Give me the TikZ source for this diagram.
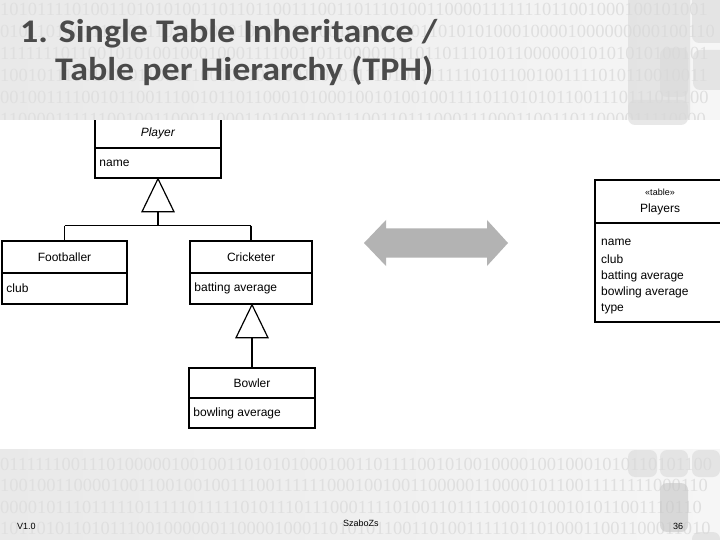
\documentclass[tikz,border=0pt]{standalone}
\usepackage{fontspec}
\setmainfont{Liberation Sans}
\newfontfamily\titlefont{Carlito}
\newfontfamily\digitfont{Liberation Serif}
\usetikzlibrary{arrows.meta}
\definecolor{bandc}{HTML}{E9E9E9}
\definecolor{bandr}{HTML}{F6F6F6}
\definecolor{digitc}{HTML}{DFDFDF}
\definecolor{titlec}{HTML}{4A4A4A}
\definecolor{arrowc}{HTML}{B3B3B3}
\definecolor{decoc}{HTML}{D9D9D9}
\tikzset{
  umlbox/.style={draw=black, line width=1.5pt, fill=white, inner sep=0pt, font=\fontsize{12}{13}\selectfont},
  umltxt/.style={anchor=west, inner sep=0pt, font=\fontsize{12}{13}\selectfont},
  umlline/.style={draw=black, line width=1.2pt},
  digits/.style={anchor=base west, inner sep=0pt, text=digitc, font=\digitfont\fontsize{18.5}{20}\selectfont},
  deco/.style={fill=decoc, rounded corners=7pt, opacity=0.6},
  foot/.style={inner sep=0pt, font=\fontsize{9}{10}\selectfont},
  titletxt/.style={anchor=base west, inner sep=0pt, text=titlec, font=\titlefont\bfseries\fontsize{33}{33}\selectfont}
}
\begin{document}
\begin{tikzpicture}[x=1pt,y=-1pt]
\useasboundingbox (0,0) rectangle (720,540);
\fill[white] (0,0) rectangle (720,540);

% Player class (top hidden below the band)
\node[umlbox, minimum width=126pt, minimum height=31pt] (playerH) at (158,133) {\textit{Player}};
\node[umlbox, minimum width=126pt, minimum height=30pt] (playerA) at (158,163) {};
\node[umltxt] (playerT) at ([xshift=5pt]playerA.west) {name};

% header band
\shade[left color=bandc, right color=bandr] (0,0) rectangle (720,120);
\begin{scope}
\clip (0,0) rectangle (720,120);
\node[digits] (r1) at (0,16) {101011110100110101010011011011001110011011101001100001111111011001000100101001};
\node[digits] (r2) at (0,38) {010110100111010011011100101010011010010110010011010101000100001000000000100110};
\node[digits] (r3) at (0,60) {111111101100101010010001000111100110110000111101101110101100000010101010100101};
\node[digits] (r4) at (0,82) {100101110010010110011100100100100110101111010011111101011001001111010110010011};
\node[digits] (r5) at (0,104) {001001111001011001110010110110001010001001010010011110110101011001110111011100};
\node[digits] (r6) at (0,126) {110000111111001001100011000110100110011100110111000111000110011011000011110000};
\end{scope}
\fill[deco] (628,-8) rectangle (690,120);
\fill[deco] (692,-8) rectangle (730,43);
\fill[deco] (660,48) rectangle (688,97);
\fill[deco] (693,50) rectangle (730,90);
\fill[deco] (628,100) rectangle (688,125);

% title
\node[titletxt] (title1) at (20,43) {\scalebox{1.09}[1]{1. Single Table Inheritance /}};
\node[titletxt] (title2) at (55,81) {\scalebox{1.09}[1]{Table per Hierarchy (TPH)}};

% Footballer
\node[umlbox, minimum width=125pt, minimum height=32pt] (footH) at (64.5,257) {Footballer};
\node[umlbox, minimum width=125pt, minimum height=31pt] (footA) at (64.5,288.5) {};
\node[umltxt] (footT) at ([xshift=5pt]footA.west) {club};

% Cricketer
\node[umlbox, minimum width=122pt, minimum height=32pt] (crickH) at (251,257) {Cricketer};
\node[umlbox, minimum width=122pt, minimum height=31pt] (crickA) at (251,288.5) {};
\node[umltxt] (crickT) at ([xshift=5pt]crickA.west) {batting average};

% Bowler
\node[umlbox, minimum width=126pt, minimum height=30pt] (bowlH) at (252,383) {Bowler};
\node[umlbox, minimum width=126pt, minimum height=30pt] (bowlA) at (252,413) {};
\node[umltxt] (bowlT) at ([xshift=5pt]bowlA.west) {bowling average};

% generalization Player
\coordinate (g1) at ([yshift=-33pt]playerA.south);
\coordinate (bar) at ([yshift=-47pt]playerA.south);
\draw[umlline, line join=miter] (playerA.south) -- ([xshift=-16pt]g1) -- ([xshift=16pt]g1) -- cycle;
\draw[umlline] (g1) -- (bar);
\draw[umlline] (bar -| footH.north) -- (bar -| crickH.north);
\draw[umlline] (bar -| footH.north) -- (footH.north);
\draw[umlline] (bar -| crickH.north) -- (crickH.north);

% generalization Cricketer
\coordinate (g2) at ([xshift=1pt,yshift=-33pt]crickA.south);
\draw[umlline, line join=miter] ([xshift=1pt]crickA.south) -- ([xshift=-16pt]g2) -- ([xshift=16pt]g2) -- cycle;
\draw[umlline] (g2) -- (bowlH.north);

% double arrow
\fill[arrowc] (364,243) -- (386,220) -- (386,228.5) -- (487,228.5) -- (487,220) -- (508,243)
  -- (487,266) -- (487,257.5) -- (386,257.5) -- (386,266) -- cycle;

% table Players
\node[umlbox, minimum width=130pt, minimum height=43pt, align=center, font=\fontsize{12}{17}\selectfont] (tabH) at (660,201.5) {{\fontsize{9}{10}\selectfont «table»}\\Players};
\node[umlbox, minimum width=130pt, minimum height=99pt] (tabA) at (660,272.5) {};
\node[umltxt] (c1) at (601,242) {name};
\node[umltxt] (c2) at (601,259) {club};
\node[umltxt] (c3) at (601,276) {batting average};
\node[umltxt] (c4) at (601,292) {bowling average};
\node[umltxt] (c5) at (601,309) {type};

% footer band
\shade[left color=bandc, right color=bandr] (0,449) rectangle (720,540);
\begin{scope}
\clip (0,449) rectangle (720,540);
\node[digits] (b1) at (0,470) {011111100111010000010010011010101000100110111100101001000010010001010110101100};
\node[digits] (b2) at (0,491) {100100110000100110010010011100111111000100100110000011000010110011111111000110};
\node[digits] (b3) at (0,513) {000010111011111011111011111010111011100011110100110111100010100101011001110110};
\node[digits] (b4) at (0,534) {101101011010111001000000110000100011010101100110100111110110100011001100011010};
\end{scope}
\fill[deco] (628,450) rectangle (657,477);
\fill[deco] (660,450) rectangle (688,477);
\fill[deco] (692,450) rectangle (720,477);
\fill[deco, fill=gray!45] (660,483) rectangle (688,532);
\fill[deco] (692,532) rectangle (720,550);

\node[foot, anchor=base west] (ver) at (17,529) {V1.0};
\node[foot, anchor=base west] (auth) at (343,526) {SzaboZs};
\node[foot, anchor=base west] (page) at (673,529) {36};
\end{tikzpicture}
\end{document}
